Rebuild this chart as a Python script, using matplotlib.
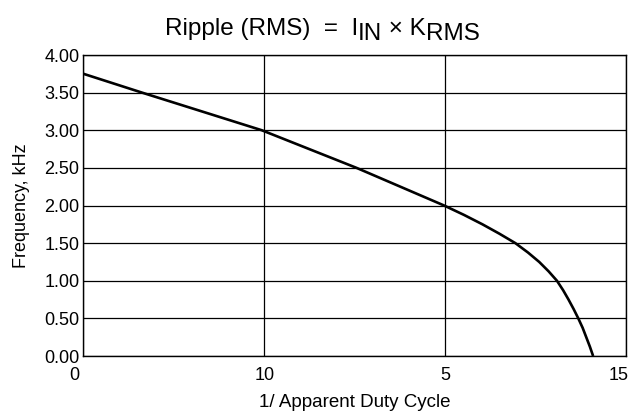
import matplotlib
matplotlib.use('Agg')
import matplotlib.pyplot as plt
import matplotlib.transforms as mtransforms

plt.rcParams['font.family'] = ['Liberation Sans', 'DejaVu Sans']

# curve (x in axis units, frequency in kHz)
duty_x = [0, 1.62, 4.93, 7.55, 9.97, 10.52, 11.03, 11.5, 11.94, 12.29, 12.6,
          12.86, 13.09, 13.26, 13.41, 13.55, 13.68, 13.8, 13.9, 14.0, 14.09]
freq_khz = [3.75, 3.5, 3.0, 2.5, 2.0, 1.875, 1.75, 1.625, 1.5, 1.375, 1.25,
            1.125, 1.0, 0.875, 0.75, 0.625, 0.5, 0.375, 0.25, 0.125, 0.0]

x_ticks = [0, 5, 10, 15]
x_tick_labels = ['0', '10', '5', '15']
y_ticks = [0, 0.5, 1.0, 1.5, 2.0, 2.5, 3.0, 3.5, 4.0]
y_tick_labels = ['%.2f' % v for v in y_ticks]

fig = plt.figure(figsize=(6.3, 4.12), dpi=100)
ax = fig.add_axes([0.1325, 0.1359, 0.8612, 0.7306])

ax.plot(duty_x, freq_khz, color='black', lw=1.9, solid_capstyle='butt',
        solid_joinstyle='round')

ax.set_xlim(0, 15)
ax.set_ylim(0, 4)
ax.set_xticks(x_ticks)
ax.set_xticklabels(x_tick_labels)
ax.set_yticks(y_ticks)
ax.set_yticklabels(y_tick_labels)
ax.tick_params(axis='both', length=0, labelsize=13, colors='black')
ax.tick_params(axis='x', pad=8)
ax.tick_params(axis='y', pad=3)

# little stubs under the outer corners
ax.set_xticks([0, 15], minor=True)
ax.tick_params(axis='x', which='minor', length=4, width=1, direction='out')

ax.grid(True, color='black', lw=0.9)
for s in ax.spines.values():
    s.set_color('black')
    s.set_linewidth(1.0)

# 0 and 15 sit a bit to the left in the original
labels = ax.get_xticklabels()
for lab, dx in zip(labels, [-9, 0, 0, -7]):
    off = mtransforms.ScaledTranslation(dx / 100, 0, fig.dpi_scale_trans)
    lab.set_transform(lab.get_transform() + off)

ax.set_xlabel('1/ Apparent Duty Cycle', fontsize=13.5, labelpad=7)
ax.set_ylabel('Frequency, kHz', fontsize=13, labelpad=10)

# title with full-size, lowered subscripts
tsize = 17.5
t1 = fig.text(165 / 630, 1 - 35 / 412, 'Ripple (RMS)  =  I', fontsize=tsize,
              ha='left', va='baseline')
t2 = fig.text(0, 0, 'IN', fontsize=tsize)
t3 = fig.text(0, 0, ' \u00d7 K', fontsize=tsize)
t4 = fig.text(0, 0, 'RMS', fontsize=tsize)
fig.canvas.draw()
r = fig.canvas.get_renderer()
prev = t1
for t, dy in [(t2, -5), (t3, 0), (t4, -5)]:
    bb = prev.get_window_extent(r)
    base = t1.get_window_extent(r).y0
    t.set_position(((bb.x1) / fig.bbox.width, (base + dy) / fig.bbox.height))
    t.set_va('bottom')
    t.set_ha('left')
    fig.canvas.draw()
    prev = t

fig.savefig('out.png', dpi=100)
